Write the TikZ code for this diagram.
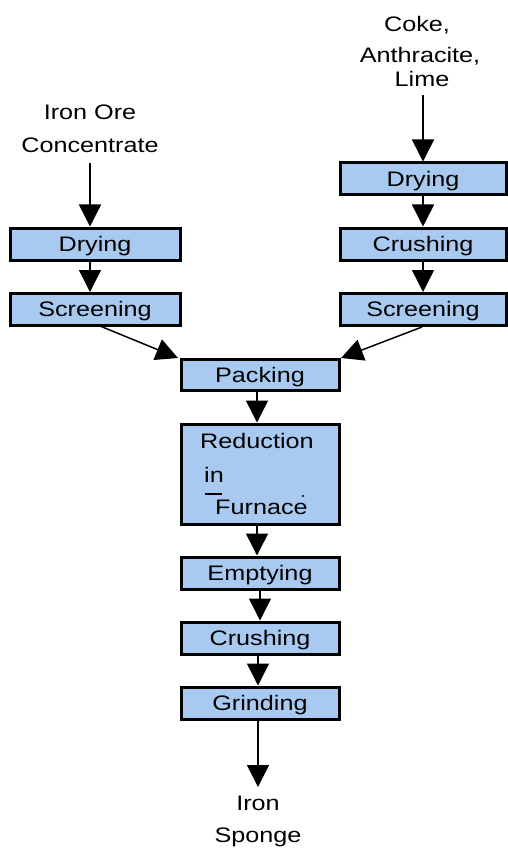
\documentclass[tikz,border=0pt]{standalone}
\usepackage{fontspec}
\setmainfont{Liberation Sans}[FakeStretch=1.2]
\usetikzlibrary{arrows.meta}
\definecolor{boxblue}{RGB}{168,202,240}
\begin{document}
\begin{tikzpicture}[x=1pt,y=-1pt,
  stepbox/.style={draw=black,line width=3pt,fill=boxblue,inner sep=0pt,
    text height=14.5pt,text depth=0pt,font=\fontsize{21}{25}\selectfont},
  txt/.style={anchor=base,inner sep=0pt,font=\fontsize{21}{25}\selectfont},
  ltxt/.style={anchor=base west,inner sep=0pt,font=\fontsize{21}{25}\selectfont},
  flow/.style={line width=1.5pt,-{Triangle[width=22pt,length=22pt]}}]
\useasboundingbox (0,0) rectangle (507,850);
% process boxes
\node[stepbox,minimum width=170pt,minimum height=32pt] (ldry) at (95,244) {Drying};
\node[stepbox,minimum width=170pt,minimum height=32pt] (lscr) at (95,309.5) {Screening};
\node[stepbox,minimum width=166pt,minimum height=32pt] (rdry) at (423,179) {Drying};
\node[stepbox,minimum width=166pt,minimum height=32pt] (rcru) at (423,244) {Crushing};
\node[stepbox,minimum width=166pt,minimum height=32pt] (rscr) at (423,309.5) {Screening};
\node[stepbox,minimum width=158pt,minimum height=31pt] (pack) at (260,375) {Packing};
\node[stepbox,minimum width=158pt,minimum height=100pt,text height=0pt] (red) at (260,474) {};
\node[ltxt] (red1) at (200,448) {Reduction};
\node[ltxt] (red2) at (204,482) {in};
\node[ltxt] (red3) at (215,514) {Furnace};
% stray marks printed around the furnace label
\draw[line width=1.5pt] (205,494) -- (222,494);
\fill (303,496) circle (1.1pt);
\node[stepbox,minimum width=158pt,minimum height=32pt] (empt) at (260,573) {Emptying};
\node[stepbox,minimum width=158pt,minimum height=32pt] (cru) at (260,638) {Crushing};
\node[stepbox,minimum width=158pt,minimum height=32pt] (grin) at (260,703) {Grinding};
% inputs and output
\node[txt] (ore1) at (90,120) {Iron Ore};
\node[txt] (ore2) at (90,153) {Concentrate};
\node[txt] (coke1) at (417,32) {Coke,};
\node[txt] (coke2) at (420,63) {Anthracite,};
\node[txt] (coke3) at (422,87) {Lime};
\node[txt] (spng1) at (258,810) {Iron};
\node[txt] (spng2) at (258,842) {Sponge};
% flow arrows
\coordinate (oreend) at (90,163);
\draw[flow] (oreend) -- (ldry.north -| oreend);
\draw[flow] (ldry.south -| oreend) -- (lscr.north -| oreend);
\coordinate (cokeend) at (423,95);
\draw[flow] (cokeend) -- (rdry.north);
\draw[flow] (rdry.south) -- (rcru.north);
\draw[flow] (rcru.south) -- (rscr.north);
\coordinate (ls) at (100,326);
\coordinate (lt) at (178,358);
\coordinate (rs) at (422,327);
\coordinate (rt) at (341,358);
\draw[flow] (ls) -- (lt);
\draw[flow] (rs) -- (rt);
\coordinate (c1) at (257,0);
\coordinate (c2) at (260,0);
\coordinate (c3) at (258,0);
\draw[flow] (pack.south -| c1) -- (red.north -| c1);
\draw[flow] (red.south -| c1) -- (empt.north -| c1);
\draw[flow] (empt.south -| c2) -- (cru.north -| c2);
\draw[flow] (cru.south -| c3) -- (grin.north -| c3);
\coordinate (spngtop) at (258,787);
\draw[flow] (grin.south -| c3) -- (spngtop);
\end{tikzpicture}
\end{document}
